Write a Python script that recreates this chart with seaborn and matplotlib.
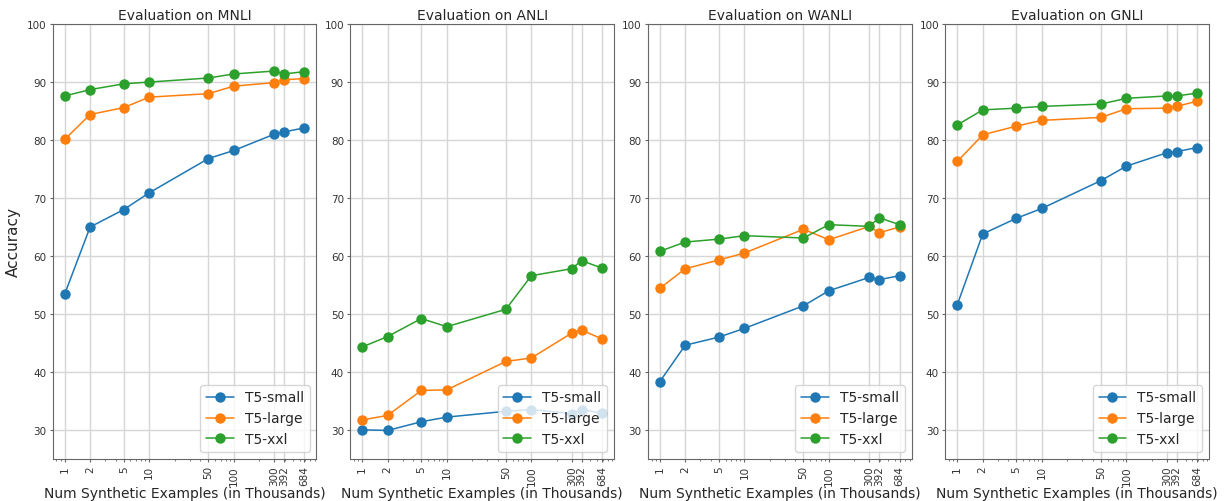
import matplotlib
matplotlib.use("Agg")
import matplotlib.pyplot as plt
import pandas as pd
import seaborn as sns

sizes = [1, 2, 5, 10, 50, 100, 300, 392, 684]
models = ["T5-small", "T5-large", "T5-xxl"]
datasets = ["MNLI", "ANLI", "WANLI", "GNLI"]

mnli_small = [53.4, 65.0, 68.0, 70.9, 76.8, 78.2, 81.0, 81.4, 82.1]
mnli_large = [80.1, 84.4, 85.6, 87.4, 88.0, 89.3, 89.9, 90.4, 90.6]
mnli_xxl = [87.6, 88.7, 89.7, 90.0, 90.7, 91.4, 91.9, 91.4, 91.8]

anli_small = [30.0, 29.9, 31.4, 32.2, 33.2, 33.5, 32.8, 33.5, 32.9]
anli_large = [31.7, 32.5, 36.8, 36.9, 41.8, 42.4, 46.7, 47.2, 45.7]
anli_xxl = [44.3, 46.1, 49.2, 47.8, 50.8, 56.6, 57.8, 59.2, 57.9]

wanli_small = [38.3, 44.6, 46.0, 47.5, 51.4, 54.0, 56.3, 55.9, 56.6]
wanli_large = [54.4, 57.8, 59.3, 60.5, 64.6, 62.8, 65.1, 64.0, 65.0]
wanli_xxl = [60.8, 62.4, 62.9, 63.5, 63.1, 65.4, 65.1, 66.6, 65.4]

gnli_small = [51.6, 63.8, 66.5, 68.2, 73.0, 75.5, 77.8, 78.0, 78.7]
gnli_large = [76.3, 80.9, 82.4, 83.4, 83.9, 85.4, 85.5, 85.8, 86.7]
gnli_xxl = [82.6, 85.2, 85.5, 85.8, 86.2, 87.2, 87.6, 87.6, 88.1]

results = {
    "MNLI": [mnli_small, mnli_large, mnli_xxl],
    "ANLI": [anli_small, anli_large, anli_xxl],
    "WANLI": [wanli_small, wanli_large, wanli_xxl],
    "GNLI": [gnli_small, gnli_large, gnli_xxl],
}

sns.set_style("ticks")
plt.rcParams["font.family"] = ["DejaVu Sans"]

fig, axes = plt.subplots(1, 4, figsize=(12.25, 5.02), dpi=100)
fig.subplots_adjust(left=0.043, right=0.987, top=0.950, bottom=0.084, wspace=0.128)

palette = ["#1f77b4", "#ff7f0e", "#2ca02c"]

for ax, name in zip(axes, datasets):
    rows = []
    for model, vals in zip(models, results[name]):
        for s, v in zip(sizes, vals):
            rows.append({"size": s, "acc": v, "model": model})
    df = pd.DataFrame(rows)
    sns.lineplot(data=df, x="size", y="acc", hue="model", hue_order=models,
                 palette=palette, marker="o", markersize=7.5, markeredgewidth=0,
                 linewidth=1.1, ax=ax)
    ax.set_xscale("log")
    ax.set_xticks(sizes)
    ax.set_xticklabels([str(s) for s in sizes], rotation=90, fontsize=7.5)
    ax.set_ylim(25, 100)
    ax.set_yticks([30, 40, 50, 60, 70, 80, 90, 100])
    ax.tick_params(axis="both", which="major", labelsize=7.5, length=2.5, pad=2,
                   color="#666666", labelcolor="#333333")
    ax.tick_params(axis="x", which="minor", length=1.5, color="#666666")
    ax.grid(True, which="major", color="#d6d6d6", linewidth=1)
    ax.set_axisbelow(True)
    for sp in ax.spines.values():
        sp.set_color("#666666")
    ax.set_title("Evaluation on " + name, fontsize=10, pad=4)
    ax.set_xlabel("Num Synthetic Examples (in Thousands)", fontsize=10, labelpad=1)
    ax.set_ylabel("")
    ax.legend(loc="lower right", fontsize=10)

axes[0].set_ylabel("Accuracy", fontsize=11)

fig.savefig("out.png", dpi=100)
